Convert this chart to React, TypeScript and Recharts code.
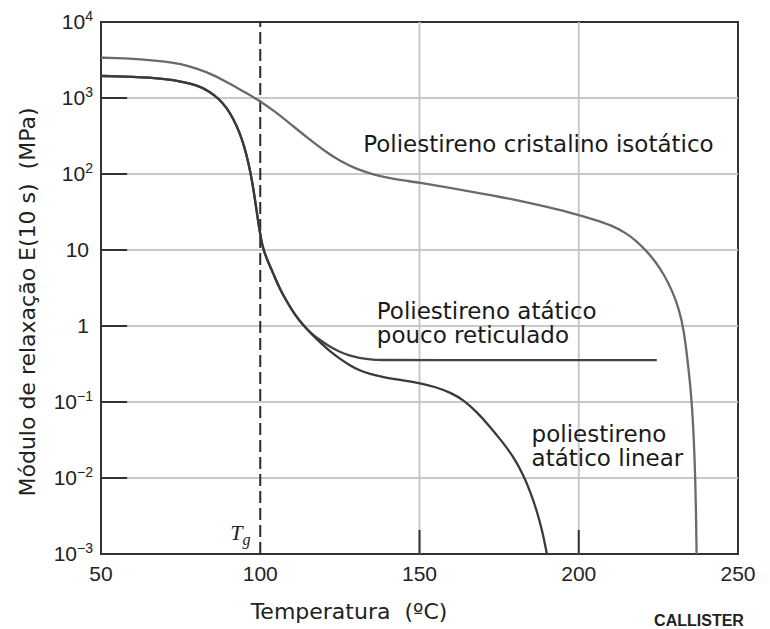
import React from "react";
import { LineChart, Line, XAxis, YAxis, ReferenceLine, ReferenceArea, ReferenceDot } from "recharts";

// Poliestireno cristalino isotático
const isoTemp = [50, 55, 60, 65, 70, 75, 80, 85, 90, 95, 100, 105, 110, 115, 120, 125, 130, 135, 140, 145, 150, 160, 170, 180, 190, 200, 205, 210, 215, 218, 221, 224, 227, 229.5, 231.5, 233, 234.3, 235.3, 236, 236.5, 236.8, 237];
const isoModulus = [3390, 3350, 3270, 3160, 3020, 2820, 2450, 2040, 1580, 1200, 912, 646, 437, 295, 204, 148, 117, 100, 89, 82, 77, 65, 55, 46, 37, 29, 25, 21.4, 16.6, 13.2, 10, 7.1, 4.6, 2.8, 1.66, 0.89, 0.32, 0.126, 0.045, 0.0126, 0.004, 0.001];

// Poliestireno atático linear
const linTemp = [50, 55, 60, 65, 70, 75, 80, 84, 87, 89.5, 91.5, 93.5, 95, 96.3, 97.5, 98.5, 99.4, 100.3, 101, 102.5, 104, 106, 108.5, 111, 113.5, 116, 119, 122, 125, 128, 131, 134.5, 138, 144, 150, 155, 160, 164, 168, 172, 176, 179.5, 182.5, 185, 187, 188.7, 190];
const linModulus = [1950, 1930, 1905, 1860, 1780, 1660, 1480, 1230, 977, 741, 537, 355, 229, 141, 79, 41.7, 22.9, 13.5, 10, 6.9, 5.0, 3.16, 2.04, 1.38, 1.02, 0.79, 0.6, 0.46, 0.37, 0.305, 0.262, 0.234, 0.215, 0.195, 0.178, 0.158, 0.132, 0.105, 0.074, 0.048, 0.03, 0.019, 0.0112, 0.0063, 0.0035, 0.0019, 0.001];

// Poliestireno atático pouco reticulado
const xlTemp = [50, 55, 60, 65, 70, 75, 80, 84, 87, 89.5, 91.5, 93.5, 95, 96.3, 97.5, 98.5, 99.4, 100.3, 101, 102.5, 104, 106, 108.5, 111, 113.5, 116, 119, 122, 125, 128, 131, 134.5, 138, 145, 224.5];
const xlModulus = [1950, 1930, 1905, 1860, 1780, 1660, 1480, 1230, 977, 741, 537, 355, 229, 141, 79, 41.7, 22.9, 13.5, 10, 6.9, 5.0, 3.16, 2.04, 1.38, 1.02, 0.8, 0.64, 0.53, 0.455, 0.408, 0.38, 0.363, 0.356, 0.355, 0.355];

const xTicks = [50, 100, 150, 200, 250];
const yTicks = [1e-3, 1e-2, 1e-1, 1, 10, 1e2, 1e3, 1e4];
const xGrid = [150, 200];
const yGrid = [1e-2, 1e-1, 1, 10, 1e2, 1e3];
const TG = 100;

const rows = (t: number[], e: number[]) => t.map((T, i) => ({ T, E: e[i] }));
const isoData = rows(isoTemp, isoModulus);
const linData = rows(linTemp, linModulus);
const xlData = rows(xlTemp, xlModulus);

const TICK_FONT = { fontFamily: "'Liberation Sans', Arial, sans-serif", fontSize: 21, fill: "#222" };
const NOTE_FONT = "'DejaVu Sans', sans-serif";

function YTick({ x, y, payload }: any) {
  const exp = Math.round(Math.log10(payload.value));
  if (exp === 0 || exp === 1) {
    return (
      <text x={x} y={y} dy={7} textAnchor="end" {...TICK_FONT}>
        {exp === 0 ? "1" : "10"}
      </text>
    );
  }
  return (
    <text x={x + 4} y={y} dy={7} textAnchor="end" {...TICK_FONT}>
      10
      <tspan dy={-8} fontSize={14}>
        {exp < 0 ? "\u2212" + -exp : exp}
      </tspan>
    </text>
  );
}

function XTick({ x, y, payload }: any) {
  return (
    <text x={x} y={y} dy={15} textAnchor="middle" {...TICK_FONT}>
      {payload.value}
    </text>
  );
}

function YTitle({ viewBox }: any) {
  const cx = viewBox.x + 27;
  const cy = viewBox.y + 280;
  return (
    <text x={cx} y={cy} transform={`rotate(-90, ${cx}, ${cy})`} textAnchor="middle" dominantBaseline="central"
      fontFamily={NOTE_FONT} fontSize={22} fill="#222" style={{ whiteSpace: "pre" }}>
      Módulo de relaxação E(10 s)  (MPa)
    </text>
  );
}

function XTitle({ viewBox }: any) {
  return (
    <g>
      <text x={viewBox.x + 248} y={viewBox.y + 65} textAnchor="middle" fontFamily={NOTE_FONT} fontSize={22} fill="#222" style={{ whiteSpace: "pre" }}>
        Temperatura  (ºC)
      </text>
      <text x={viewBox.x + 598} y={viewBox.y + 72} textAnchor="middle" fontFamily="'Liberation Sans', Arial, sans-serif" fontWeight="bold" fontSize={16} fill="#222">
        CALLISTER
      </text>
    </g>
  );
}

function TgLabel({ viewBox }: any) {
  return (
    <text x={viewBox.x - 30} y={viewBox.y + viewBox.height - 14} fontFamily="'Liberation Serif', serif" fontStyle="italic" fontSize={22} fill="#222">
      T
      <tspan dy={5} fontSize={16}>g</tspan>
    </text>
  );
}

function Note({ viewBox, lines }: any) {
  return (
    <text x={viewBox.x} y={viewBox.y} fontFamily={NOTE_FONT} fontSize={23} fill="#1a1a1a">
      {lines.map((l: string, i: number) => (
        <tspan key={i} x={viewBox.x} dy={i === 0 ? 0 : 24.5}>
          {l}
        </tspan>
      ))}
    </text>
  );
}

export default function App() {
  return (
    <div style={{ position: "absolute", left: 0, top: 0, background: "#fff" }}>
      <LineChart width={770} height={629} margin={{ top: 22, right: 32, bottom: 0, left: 0 }}>
        <XAxis dataKey="T" type="number" domain={[50, 250]} ticks={xTicks} tick={<XTick />} tickSize={0} tickMargin={12}
          axisLine={false} tickLine={false} height={75} label={<XTitle />} allowDataOverflow />
        <YAxis type="number" scale="log" domain={[1e-3, 1e4]} ticks={yTicks} tick={<YTick />} tickSize={0} tickMargin={12}
          axisLine={false} tickLine={false} width={101} label={<YTitle />} allowDataOverflow />

        {/* light grid */}
        {xGrid.map((v) => (
          <ReferenceLine key={`gx${v}`} x={v} stroke="#c9c9c9" strokeWidth={2} />
        ))}
        {yGrid.map((v) => (
          <ReferenceLine key={`gy${v}`} y={v} stroke="#c9c9c9" strokeWidth={2} />
        ))}

        {/* inner tick marks */}
        {yGrid.map((v) => (
          <ReferenceLine key={`ty${v}`} segment={[{ x: 50, y: v }, { x: 58.2, y: v }]} stroke="#333" strokeWidth={2} />
        ))}
        {xGrid.map((v) => (
          <ReferenceLine key={`tx${v}`} segment={[{ x: v, y: 1e-3 }, { x: v, y: 0.00207 }]} stroke="#333" strokeWidth={2} />
        ))}

        <ReferenceLine x={TG} stroke="#2a2a2a" strokeWidth={2} strokeDasharray="12 5" label={<TgLabel />} />

        <Line data={isoData} dataKey="E" type="basis" stroke="#6a6a6a" strokeWidth={2.3} dot={false} activeDot={false} isAnimationActive={false} />
        <Line data={xlData} dataKey="E" type="basis" stroke="#444" strokeWidth={2.3} dot={false} activeDot={false} isAnimationActive={false} />
        <Line data={linData} dataKey="E" type="basis" stroke="#3a3a3a" strokeWidth={2.3} dot={false} activeDot={false} isAnimationActive={false} />

        <ReferenceArea x1={50} x2={250} y1={1e-3} y2={1e4} fill="none" stroke="#333" strokeWidth={2} />

        <ReferenceDot x={132.3} y={194} r={0} fill="none" stroke="none" label={<Note lines={["Poliestireno cristalino isotático"]} />} />
        <ReferenceDot x={136.6} y={1.24} r={0} fill="none" stroke="none" label={<Note lines={["Poliestireno atático", "pouco reticulado"]} />} />
        <ReferenceDot x={185.2} y={0.03} r={0} fill="none" stroke="none" label={<Note lines={["poliestireno", "atático linear"]} />} />
      </LineChart>
    </div>
  );
}
